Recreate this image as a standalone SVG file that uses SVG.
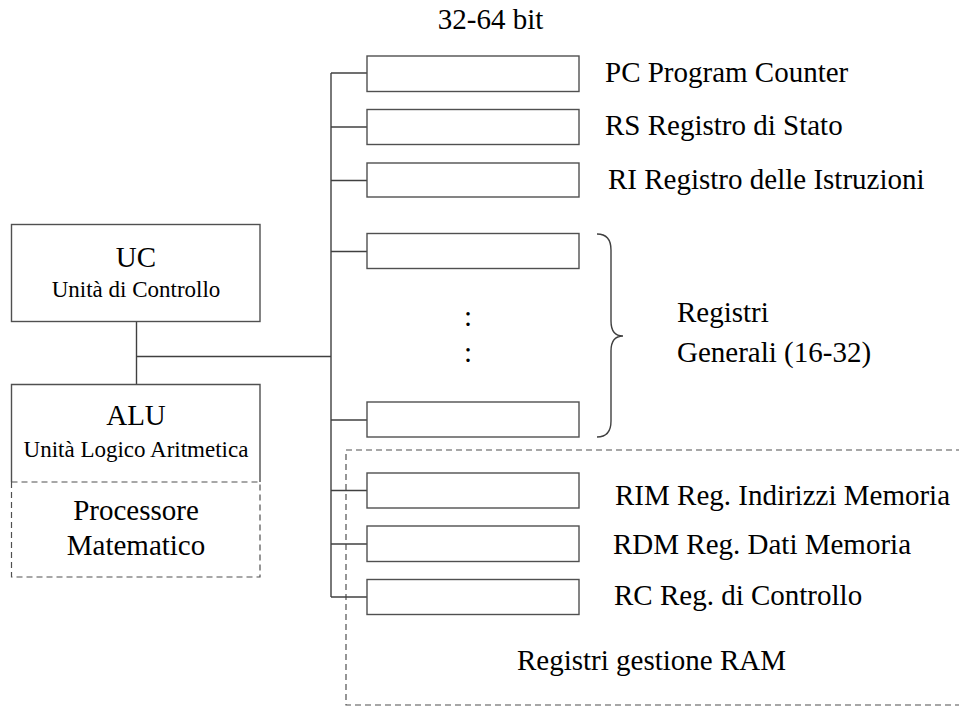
<svg xmlns="http://www.w3.org/2000/svg" width="959" height="708" viewBox="0 0 959 708">
  <style>
    .box { fill: #ffffff; stroke: #505050; stroke-width: 1.4; }
    .dash { fill: none; stroke: #505050; stroke-width: 1.2; stroke-dasharray: 6 4; }
    .wire { fill: none; stroke: #404040; stroke-width: 1.4; }
    text { fill: #000000; }
    .big { font-size: 29px; }
    .small { font-size: 23px; }
    .mid { text-anchor: middle; }
  </style>
  <rect width="959" height="708" fill="#ffffff"/>

  <g font-family="Liberation Serif, serif">
    <!-- RAM management registers frame (open to the right) -->
    <g id="ram-group">
      <rect class="dash" x="346" y="450" width="640" height="255"/>
      <text class="big" x="517" y="670">Registri gestione RAM</text>
    </g>

    <!-- connectors: CPU bus and register taps -->
    <g id="connectors">
      <line class="wire" x1="136.5" y1="322" x2="136.5" y2="384"/>
      <line class="wire" x1="136.5" y1="356.5" x2="331" y2="356.5"/>
      <line class="wire" x1="331" y1="73" x2="331" y2="597"/>
      <line class="wire" x1="331" y1="73" x2="367" y2="73"/>
      <line class="wire" x1="331" y1="127" x2="367" y2="127"/>
      <line class="wire" x1="331" y1="180.5" x2="367" y2="180.5"/>
      <line class="wire" x1="331" y1="251.5" x2="367" y2="251.5"/>
      <line class="wire" x1="331" y1="420" x2="367" y2="420"/>
      <line class="wire" x1="331" y1="490.5" x2="367" y2="490.5"/>
      <line class="wire" x1="331" y1="544" x2="367" y2="544"/>
      <line class="wire" x1="331" y1="597" x2="367" y2="597"/>
    </g>

    <!-- control unit -->
    <g id="uc">
      <rect class="box" x="11.5" y="224.5" width="248.5" height="97"/>
      <text class="big mid" x="136" y="267">UC</text>
      <text class="small mid" x="136" y="297">Unità di Controllo</text>
    </g>

    <!-- arithmetic logic unit with math coprocessor -->
    <g id="alu">
      <path class="box" d="M11.5,482 L11.5,384.5 L260,384.5 L260,482"/>
      <path class="dash" d="M11.5,482 L260,482 M11.5,482 L11.5,577 L260,577 L260,482"/>
      <text class="big mid" x="136" y="425">ALU</text>
      <text class="small mid" x="136" y="457">Unità Logico Aritmetica</text>
      <text class="big mid" x="136" y="520">Processore</text>
      <text class="big mid" x="136" y="555">Matematico</text>
    </g>

    <!-- special registers -->
    <g id="reg-pc">
      <rect class="box" x="367" y="56" width="212" height="35.5"/>
      <text class="big" x="605" y="82">PC Program Counter</text>
    </g>
    <g id="reg-rs">
      <rect class="box" x="367" y="109.5" width="212" height="35"/>
      <text class="big" x="605" y="135">RS Registro di Stato</text>
    </g>
    <g id="reg-ri">
      <rect class="box" x="367" y="163" width="212" height="34"/>
      <text class="big" x="608" y="189">RI Registro delle Istruzioni</text>
    </g>

    <!-- general purpose registers -->
    <g id="reg-gen">
      <rect class="box" x="367" y="233.5" width="212" height="35"/>
      <text class="big mid" x="468" y="326">:</text>
      <text class="big mid" x="468" y="362">:</text>
      <rect class="box" x="367" y="402" width="212" height="35"/>
      <path class="wire" d="M597,234 Q611,234 611,250 L611,321 Q611,336 623,336 Q611,336 611,351 L611,421 Q611,437 597,437"/>
      <text class="big" x="677" y="322">Registri</text>
      <text class="big" x="677" y="362">Generali (16-32)</text>
    </g>

    <!-- memory interface registers -->
    <g id="reg-rim">
      <rect class="box" x="367" y="473" width="212" height="35"/>
      <text class="big" x="615" y="505">RIM Reg. Indirizzi Memoria</text>
    </g>
    <g id="reg-rdm">
      <rect class="box" x="367" y="526" width="212" height="35.5"/>
      <text class="big" x="613" y="554">RDM Reg. Dati Memoria</text>
    </g>
    <g id="reg-rc">
      <rect class="box" x="367" y="579.5" width="212" height="35"/>
      <text class="big" x="614" y="605">RC Reg. di Controllo</text>
    </g>

    <!-- word width -->
    <g id="width-label">
      <text class="big mid" x="490.5" y="28.5">32-64 bit</text>
    </g>
  </g>
</svg>
